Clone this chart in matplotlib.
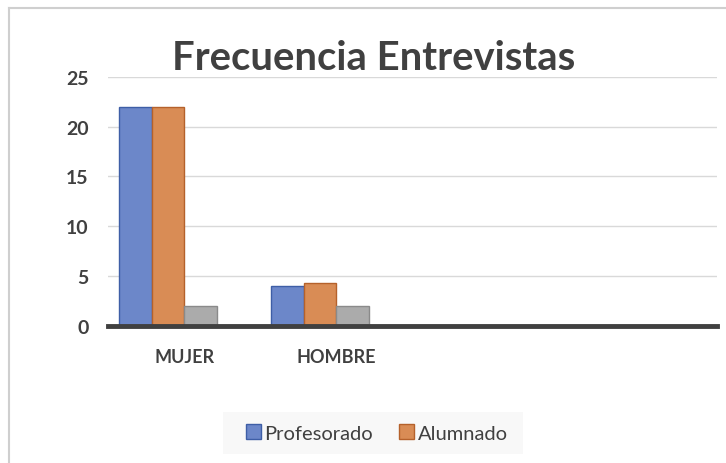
import numpy as np
import matplotlib.pyplot as plt
from matplotlib.patches import Rectangle

# data
categories = ['MUJER', 'HOMBRE', '', '']
profesorado = [22, 4, 0, 0]
alumnado = [22, 4.3, 0, 0]
otros = [2, 2, 0, 0]
series_names = ['Profesorado', 'Alumnado']
yticks = [0, 5, 10, 15, 20, 25]

plt.rcParams['font.family'] = ['Lato', 'DejaVu Sans']

fig = plt.figure(figsize=(7.26, 4.64), dpi=100)
ax = fig.add_axes([108 / 726, 1 - 326.7 / 464, (717 - 108) / 726, (326.7 - 78) / 464])

x = np.arange(len(categories))
w = 0.2138
fills = ['#6c87c9', '#d98c55', '#ababab']
edges = ['#3e5ea6', '#b5612b', '#8a8a8a']
series = [profesorado, alumnado, otros]
labels = series_names + ['_nolegend_']
# four slots per category (the 4th series is empty in the original)
for i, vals in enumerate(series):
    ax.bar(x + (i - 2) * w, vals, w, align='edge', color=fills[i],
           edgecolor=edges[i], linewidth=1, label=labels[i], zorder=2)

ax.set_xlim(-0.5, len(categories) - 0.5)
ax.set_ylim(0, 25)
ax.set_yticks(yticks)
ax.set_yticklabels([str(t) for t in yticks], fontsize=14, color='#404040', fontweight='bold')
ax.set_xticks(x)
ax.set_xticklabels(categories, fontsize=13, color='#404040', fontweight='bold')
ax.tick_params(axis='both', length=0)
ax.tick_params(axis='y', pad=14)
ax.tick_params(axis='x', pad=16)
ax.grid(axis='y', color='#d9d9d9', linewidth=1, zorder=0)
for s in ax.spines.values():
    s.set_visible(False)
ax.axhline(0, color='#404040', linewidth=3.5, zorder=3, clip_on=False)

fig.text(374 / 726, 1 - 58 / 464, 'Frecuencia Entrevistas', ha='center', va='center',
         fontsize=28.8, fontweight='bold', color='#404040')

# legend background box
fig.patches.append(Rectangle((223 / 726, 1 - 455 / 464), 300 / 726, 42 / 464,
                             transform=fig.transFigure, facecolor='#f8f8f8',
                             edgecolor='none', zorder=0))
leg = fig.legend(loc='center', bbox_to_anchor=(377 / 726, 1 - 434 / 464), ncol=2,
                 frameon=False, fontsize=14.5, handlelength=0.7, handleheight=0.7,
                 handletextpad=0.2, columnspacing=1.3, labelcolor='#404040')

# outer chart border (left and top)
fig.add_artist(plt.Line2D([9 / 726, 9 / 726], [0, 1 - 9 / 464], color='#cfcfcf', linewidth=1.5,
                          transform=fig.transFigure))
fig.add_artist(plt.Line2D([9 / 726, 1], [1 - 9 / 464, 1 - 9 / 464], color='#cfcfcf', linewidth=1.5,
                          transform=fig.transFigure))

fig.savefig('out.png', dpi=100)
